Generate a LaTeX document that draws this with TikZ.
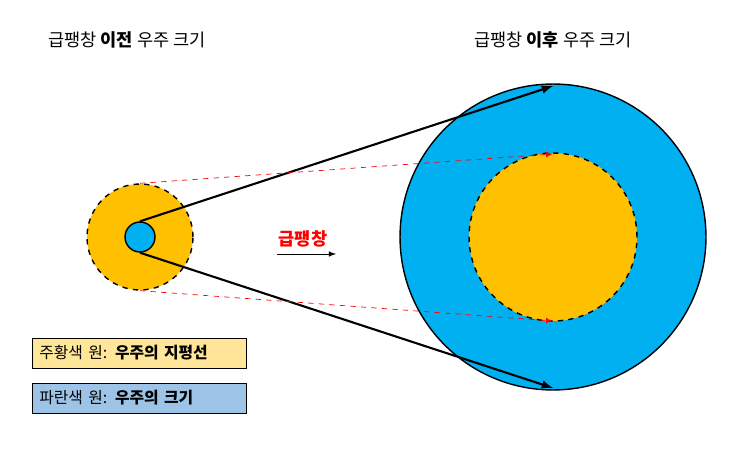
\documentclass[tikz,border=0pt]{standalone}
\usepackage{fontspec}
\newfontfamily\kr{Noto Sans CJK KR}
\definecolor{skyblue}{HTML}{00B0F0}
\definecolor{gold}{HTML}{FFC000}
\definecolor{paleyellow}{HTML}{FFE699}
\definecolor{paleblue}{HTML}{9DC3E6}
\usetikzlibrary{positioning}
\begin{document}
\begin{tikzpicture}[x=0.02cm,y=-0.02cm,font=\kr\fontsize{9}{11}\selectfont,
    horizon/.style={fill=gold,draw,dashed,thick},
    size/.style={fill=skyblue,draw,thick},
    growth/.style={->,>=latex,very thick},
    trace/.style={->,>=latex,red,dashed,thin},
    legend/.style={draw,anchor=west,minimum width=4.24cm,minimum height=0.6cm,inner xsep=4pt,text width=4cm}]
  \useasboundingbox (0,0) rectangle (743,459);
  % before inflation
  \node[circle,horizon,minimum size=2.12cm] (h1) at (140,237) {};
  \node[circle,size,minimum size=0.6cm] (s1) at (140,237) {};
  % after inflation
  \node[circle,size,minimum size=6.12cm] (s2) at (553,237) {};
  \node[circle,horizon,minimum size=3.36cm] (h2) at (553,237) {};
  \coordinate (st) at (553,86);
  \coordinate (sb) at (553,388);
  \coordinate (ht) at (553,154);
  \coordinate (hb) at (553,321);
  \draw[growth] (s1.north) -- (st);
  \draw[growth] (s1.south) -- (sb);
  \draw[trace] (h1.north) -- (ht);
  \draw[trace] (h1.south) -- (hb);
  % labels
  \node (t1) at (127,40) {\fontsize{10}{12}\selectfont 급팽창 \textbf{이전} 우주 크기};
  \node (t2) at (553,40) {\fontsize{10}{12}\selectfont 급팽창 \textbf{이후} 우주 크기};
  \node[text=red,font=\kr\bfseries\fontsize{10}{12}\selectfont] (inf) at (303,239) {급팽창};
  \coordinate (a1) at (277,254);
  \coordinate (a2) at (336,254);
  \draw[->,>=latex] (a1) -- (a2);
  \node[legend,fill=paleyellow] (l1) at (32,353) {주황색 원: \textbf{우주의 지평선}};
  \node[legend,fill=paleblue] (l2) at (32,398) {파란색 원: \textbf{우주의 크기}};
\end{tikzpicture}
\end{document}
